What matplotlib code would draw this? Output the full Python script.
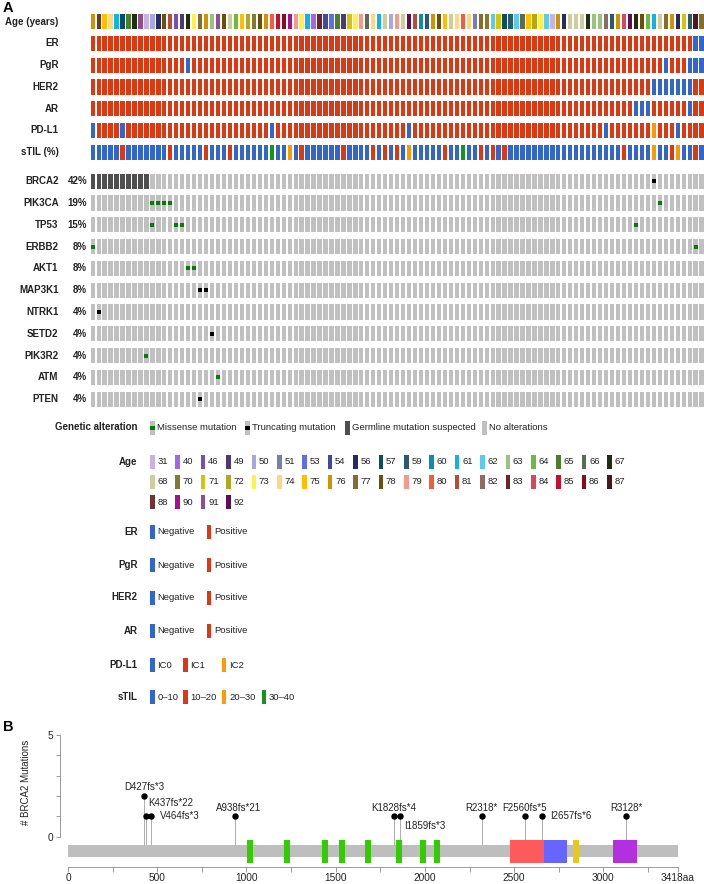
import matplotlib
matplotlib.use("Agg")
import matplotlib.pyplot as plt
from matplotlib.patches import Rectangle

plt.rcParams["font.family"] = ["Liberation Sans", "DejaVu Sans"]

W, H = 704, 884
N_PATIENTS = 103

# ---------------- panel A: clinical tracks ----------------
AGE = [76, 88, 75, 74, 61, 57, 65, 67, 91, 31, 50, 56, 78, 81, 46, 49, 67, 73, 77, 76,
       63, 91, 78, 68, 64, 75, 72, 70, 78, 76, 80, 85, 86, 90, 79, 73, 61, 40, 83, 54,
       53, 65, 49, 71, 73, 79, 66, 74, 61, 68, 50, 79, 68, 92, 81, 60, 59, 76, 78, 75,
       68, 74, 80, 74, 51, 77, 70, 62, 71, 57, 59, 62, 66, 75, 72, 73, 62, 31, 76, 56,
       68, 68, 68, 67, 63, 63, 82, 59, 76, 84, 92, 67, 78, 64, 61, 68, 77, 76, 56, 71,
       59, 87, 77]

AGE_LEVELS = [31, 40, 46, 49, 50, 51, 53, 54, 56, 57, 59, 60, 61, 62, 63, 64, 65, 66, 67,
              68, 70, 71, 72, 73, 74, 75, 76, 77, 78, 79, 80, 81, 82, 83, 84, 85, 86, 87,
              88, 90, 91, 92]
AGE_COLORS = ["#c9b2e6", "#a466e6", "#7a4fb0", "#4c3a73", "#a6a8e3", "#7a7db0", "#5f6ee6",
              "#3f4aa0", "#272b61", "#0a4e66", "#2b5a6b", "#0f8ab0", "#11b2ea", "#5ec9ec",
              "#98c480", "#6dbb3c", "#4b7f2e", "#5e6958", "#1f3012",
              "#cfcca0", "#817a30", "#d4c40c", "#b4a620", "#fff14a", "#ffd681", "#ffbf00",
              "#cf9400", "#886c2c", "#6b4f0b", "#f59a8b", "#f45b3f", "#b94c38", "#8f6b68",
              "#6c2526", "#d9465f", "#c8102e", "#8a0b1c", "#4a1620",
              "#6d3535", "#a6118f", "#8f4f8d", "#5c0f55"]

# columns (patients) that differ from the majority value of each track
ER_NEGATIVE = [101, 102]
PGR_NEGATIVE = [16, 96, 100, 101, 102]
HER2_NEGATIVE = [94, 95, 96, 97, 98, 99, 100]
AR_NEGATIVE = [91, 92, 93, 100]
PDL1_IC0 = [0, 5, 30, 53, 86, 98]
PDL1_IC2 = [94]
STIL_10_20 = [5, 13, 19, 23, 35, 42, 47, 49, 51, 59, 65, 67, 69, 89, 97, 101]
STIL_20_30 = [33, 53, 94, 98]
STIL_30_40 = [30, 62]

TRACKS = ["Age (years)", "ER", "PgR", "HER2", "AR", "PD-L1", "sTIL (%)"]

# ---------------- panel A: genetic alterations ----------------
GENES = ["BRCA2", "PIK3CA", "TP53", "ERBB2", "AKT1", "MAP3K1", "NTRK1", "SETD2",
         "PIK3R2", "ATM", "PTEN"]
GENE_PCT = ["42%", "19%", "15%", "8%", "8%", "8%", "4%", "4%", "4%", "4%", "4%"]
GERMLINE = {"BRCA2": [0, 1, 2, 3, 4, 5, 6, 7, 8, 9]}
MISSENSE = {"PIK3CA": [10, 11, 12, 13, 95], "TP53": [10, 14, 15, 91],
            "ERBB2": [0, 101], "AKT1": [16, 17], "PIK3R2": [9], "ATM": [21]}
TRUNCATING = {"BRCA2": [94], "MAP3K1": [18, 19], "NTRK1": [1], "SETD2": [20],
              "PTEN": [18]}

# ---------------- panel B: BRCA2 lollipop ----------------
PROTEIN_LEN = 3418
MUT_NAMES = ["D427fs*3", "K437fs*22", "V464fs*3", "A938fs*21", "K1828fs*4", "I1859fs*3",
             "R2318*", "F2560fs*5", "I2657fs*6", "R3128*"]
MUT_POS = [427, 437, 464, 938, 1828, 1859, 2318, 2560, 2657, 3128]
MUT_COUNT = [2, 1, 1, 1, 1, 1, 1, 1, 1, 1]
DOMAIN_START = [1002, 1212, 1421, 1517, 1664, 1837, 1972, 2051, 2479, 2670, 2831, 3052]
DOMAIN_END = [1036, 1246, 1455, 1551, 1698, 1871, 2006, 2085, 2667, 2799, 2863, 3190]

# ---------------- styles ----------------
BLUE, RED, ORANGE, GREEN = "#3366cc", "#dc3912", "#ff9900", "#109618"
GRAY, GERM_GRAY = "#c0c0c0", "#4f4f4f"
MISS_GREEN, TRUNC_BLACK = "#008000", "#000000"
DOMAIN_COLORS = ["#33cc00"] * 8 + ["#ff5a5a", "#6666ff", "#e8c91a", "#b330e0"]
TXT = "#222222"


def fig_box(x0, y0, x1, y1):
    return [x0 / W, 1 - y1 / H, (x1 - x0) / W, (y1 - y0) / H]


def pick(idx_groups, default):
    cols = []
    for i in range(N_PATIENTS):
        c = default
        for idx, col in idx_groups:
            if i in idx:
                c = col
        cols.append(c)
    return cols


age_lookup = dict(zip(AGE_LEVELS, AGE_COLORS))
track_colors = [
    [age_lookup[a] for a in AGE],
    pick([(ER_NEGATIVE, BLUE)], RED),
    pick([(PGR_NEGATIVE, BLUE)], RED),
    pick([(HER2_NEGATIVE, BLUE)], RED),
    pick([(AR_NEGATIVE, BLUE)], RED),
    pick([(PDL1_IC0, BLUE), (PDL1_IC2, ORANGE)], RED),
    pick([(STIL_10_20, RED), (STIL_20_30, ORANGE), (STIL_30_40, GREEN)], BLUE),
]

fig = plt.figure(figsize=(W / 100, H / 100), dpi=100)

# full-figure pixel axes for labels and legends
ax_px = fig.add_axes([0, 0, 1, 1])
ax_px.set_xlim(0, W)
ax_px.set_ylim(H, 0)
ax_px.axis("off")

xs = list(range(N_PATIENTS))

# clinical tracks
ax_c = fig.add_axes(fig_box(89.7, 10.8, 704.6, 163.1))
for r, cols in enumerate(track_colors):
    ax_c.bar(xs, 0.70, bottom=r - 0.35, width=0.72, color=cols, linewidth=0)
ax_c.set_xlim(-0.5, N_PATIENTS - 0.5)
ax_c.set_ylim(len(TRACKS) - 0.5, -0.5)
ax_c.axis("off")

# gene tracks
ax_g = fig.add_axes(fig_box(89.7, 170.3, 704.6, 410.1))
for r, g in enumerate(GENES):
    germ = GERMLINE.get(g, [])
    cols = [GERM_GRAY if i in germ else GRAY for i in xs]
    ax_g.bar(xs, 0.69, bottom=r - 0.345, width=0.72, color=cols, linewidth=0)
    for marks, col in ((MISSENSE.get(g, []), MISS_GREEN), (TRUNCATING.get(g, []), TRUNC_BLACK)):
        if marks:
            ax_g.bar(marks, 0.19, bottom=r - 0.095, width=0.68, color=col, linewidth=0)
ax_g.set_xlim(-0.5, N_PATIENTS - 0.5)
ax_g.set_ylim(len(GENES) - 0.5, -0.5)
ax_g.axis("off")

# row labels
ax_px.text(3, 1, "A", fontsize=10.5, fontweight="bold", ha="left", va="top")
for r, t in enumerate(TRACKS):
    ax_px.text(58.5, 21.7 + 21.75 * r, t, ha="right", va="center", fontsize=7,
               fontweight="bold", color=TXT)
for r, (g, p) in enumerate(zip(GENES, GENE_PCT)):
    y = 181.2 + 21.8 * r
    ax_px.text(58.5, y, g, ha="right", va="center", fontsize=7, fontweight="bold", color=TXT)
    ax_px.text(87, y, p, ha="right", va="center", fontsize=7, fontweight="bold", color=TXT)

# ---------------- legends ----------------
SW, SH = 4.5, 14


def swatch(x, y, color):
    ax_px.add_patch(Rectangle((x, y - SH / 2), SW, SH, color=color, lw=0))


def legend_row(title, y, xs_, colors, labels):
    if title:
        ax_px.text(137.5, y, title, ha="right", va="center", fontsize=7,
                   fontweight="bold", color=TXT)
    for x, c, lab in zip(xs_, colors, labels):
        swatch(x, y, c)
        ax_px.text(x + 7.3, y, lab, ha="left", va="center", fontsize=6.8, color=TXT)


# genetic alteration legend
gy = 427.5
legend_row("Genetic alteration", gy, [150, 245, 345, 482],
           [GRAY, GRAY, GERM_GRAY, GRAY],
           ["Missense mutation", "Truncating mutation", "Germline mutation suspected",
            "No alterations"])
ax_px.add_patch(Rectangle((150, gy - 2), SW, 4, color=MISS_GREEN, lw=0))
ax_px.add_patch(Rectangle((245, gy - 2), SW, 4, color=TRUNC_BLACK, lw=0))

# age legend, 19 entries per line
for k, (a, c) in enumerate(zip(AGE_LEVELS, AGE_COLORS)):
    row, col = divmod(k, 19)
    legend_row("Age" if k == 0 else None, 461.7 + 20.3 * row, [150 + 25.4 * col], [c], [str(a)])

for title, y in (("ER", 532), ("PgR", 565), ("HER2", 597.5), ("AR", 630.7)):
    legend_row(title, y, [150, 206.7], [BLUE, RED], ["Negative", "Positive"])
legend_row("PD-L1", 665, [150, 183, 221.7], [BLUE, RED, ORANGE], ["IC0", "IC1", "IC2"])
legend_row("sTIL", 697.3, [150, 183, 221.7, 261.7], [BLUE, RED, ORANGE, GREEN],
           ["0\u201310", "10\u201320", "20\u201330", "30\u201340"])

# ---------------- panel B ----------------
ax_px.text(3, 727, "B", fontsize=10.5, fontweight="bold", ha="left", va="center")
ax_b = fig.add_axes(fig_box(60, 735, 704, 866.7))
ax_b.set_xlim(-44.8, 3564)
ax_b.set_ylim(-1.475, 5)

ax_b.barh(-0.715, PROTEIN_LEN, height=0.565, left=0, color="#bebebe", linewidth=0, zorder=2)
ax_b.barh([-0.715] * len(DOMAIN_START),
          [e - s for s, e in zip(DOMAIN_START, DOMAIN_END)],
          height=1.13, left=DOMAIN_START, color=DOMAIN_COLORS, linewidth=0, zorder=3)
ax_b.vlines(MUT_POS, -0.43, MUT_COUNT, color="#a0a0a0", lw=0.6, zorder=1)
ax_b.plot(MUT_POS, MUT_COUNT, "o", ms=3.6, color="black", zorder=4)

# label placement (offset in points, alignment)
LABEL_PLACE = [((0, 6.7), "center"), ((1.4, 9.4), "left"), ((6.5, 0), "left"),
               ((2, 6.3), "center"), ((0, 6.3), "center"), ((3.2, -7.2), "left"),
               ((0, 6.3), "center"), ((0, 6.3), "center"), ((6.1, 0), "left"),
               ((0, 6.3), "center")]
for name, pos, cnt, (off, ha) in zip(MUT_NAMES, MUT_POS, MUT_COUNT, LABEL_PLACE):
    ax_b.annotate(name, (pos, cnt), xytext=off, textcoords="offset points",
                  ha=ha, va="center", fontsize=7, color=TXT)

for s in ("top", "right"):
    ax_b.spines[s].set_visible(False)
for s in ("left", "bottom"):
    ax_b.spines[s].set_color("#8a8a8a")
    ax_b.spines[s].set_linewidth(0.6)
ax_b.spines["left"].set_bounds(0, 5)
ax_b.spines["bottom"].set_bounds(0, PROTEIN_LEN)

ax_b.set_yticks([0, 1, 2, 3, 4, 5])
ax_b.set_yticklabels(["0", "", "", "", "", "5"])
ax_b.set_xticks([0, 500, 1000, 1500, 2000, 2500, 3000, PROTEIN_LEN])
ax_b.set_xticklabels(["0", "500", "1000", "1500", "2000", "2500", "3000", "3418aa"])
ax_b.set_xticks([250, 750, 1250, 1750, 2250, 2750, 3250], minor=True)
ax_b.tick_params(axis="both", which="both", color="#8a8a8a", width=0.6, labelsize=7.3,
                 labelcolor=TXT)
ax_b.tick_params(axis="x", which="both", length=3.6, pad=1)
ax_b.tick_params(axis="y", length=3, pad=2)
ax_b.set_ylabel("# BRCA2 Mutations", fontsize=7, color=TXT)
ax_b.yaxis.set_label_coords((31 - 60) / 644, (866.7 - 782) / 131.7)
ax_b.patch.set_alpha(0)

fig.savefig("out.png", dpi=100)
